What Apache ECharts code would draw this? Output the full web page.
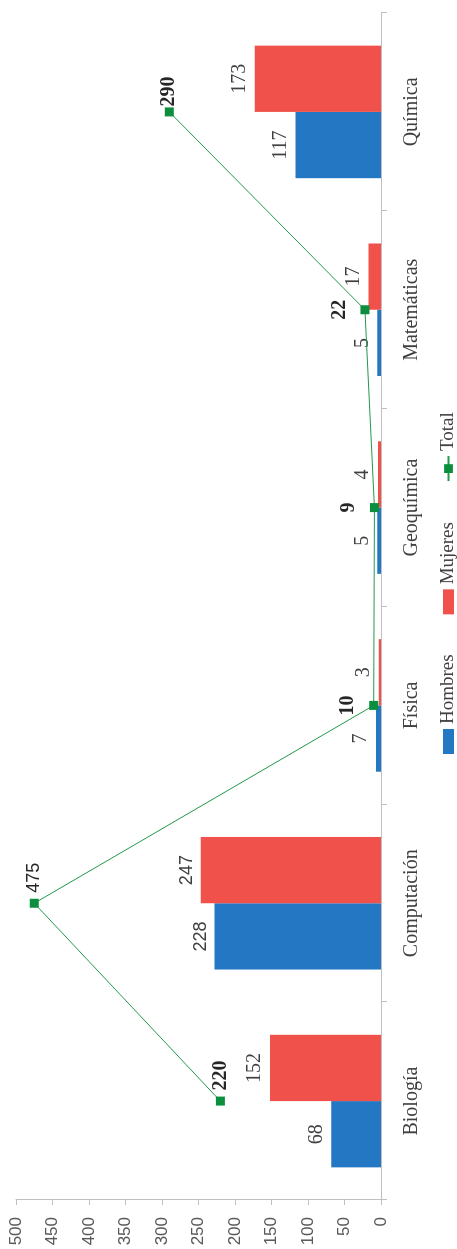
<!DOCTYPE html>
<html>
<head>
<meta charset="utf-8">
<script src="https://cdn.jsdelivr.net/npm/echarts@6/dist/echarts.min.js"></script>
<style>
  html, body { margin: 0; padding: 0; background: #fff; overflow: hidden; }
  /* the chart is laid out as columns, then turned a quarter turn anticlockwise */
  #chart {
    position: absolute; left: 0; top: 0;
    width: 1249px; height: 457px;
    transform-origin: 0 0;
    transform: translateY(1249px) rotate(-90deg);
  }
</style>
</head>
<body>
<div id="chart"></div>
<script>
// Áreas y número de personas por sexo
const categorias = ['Biología', 'Computación', 'Física', 'Geoquímica', 'Matemáticas', 'Química'];
const hombres = [68, 228, 7, 5, 5, 117];
const mujeres = [152, 247, 3, 4, 17, 173];
const total = [220, 475, 10, 9, 22, 290];
const valorTicks = [0, 50, 100, 150, 200, 250, 300, 350, 400, 450, 500];

const SERIF = '"Liberation Serif", "DejaVu Serif", serif';
const SANS = '"Liberation Sans", Arial, sans-serif';
const AZUL = '#2478C3';
const ROJO = '#F0514B';
const VERDE = '#1F9A4B';
const VERDE_MARCA = '#0B8F3E';

// Computación values are set in a sans face
const sansIdx = categorias.indexOf('Computación');
// total labels that sit beside the point instead of above it
const ladoDerecho = { 'Biología': 6, 'Computación': 6, 'Química': 1 };

function barData(vals) {
  return vals.map((v, i) => i === sansIdx
    ? { value: v, label: { fontFamily: SANS, fontSize: 18 } }
    : v);
}

const totalData = total.map((v, i) => {
  const item = { value: v };
  const lab = {};
  if (categorias[i] in ladoDerecho) {
    lab.position = 'right';
    lab.distance = ladoDerecho[categorias[i]];
  }
  if (i === sansIdx) {
    lab.fontFamily = SANS;
    lab.fontWeight = 'normal';
    lab.fontSize = 18;
  }
  item.label = lab;
  return item;
});

const chart = echarts.init(document.getElementById('chart'), null, { renderer: 'canvas' });

chart.setOption({
  animation: false,
  backgroundColor: '#ffffff',
  grid: { left: 49, right: 13, top: 16, bottom: 76, containLabel: false },
  legend: {
    left: 490,
    top: 434,
    itemWidth: 25,
    itemHeight: 11,
    itemGap: 40,
    textStyle: { fontFamily: SERIF, fontSize: 19, color: '#404040' },
    data: [
      { name: 'Hombres', icon: 'rect' },
      { name: 'Mujeres', icon: 'rect' },
      { name: 'Total' }
    ]
  },
  xAxis: {
    type: 'category',
    data: categorias,
    axisLine: { lineStyle: { color: '#BFBFBF', width: 1 } },
    axisTick: { show: true, length: 6, alignWithLabel: false, lineStyle: { color: '#BFBFBF' } },
    axisLabel: { margin: 21, fontFamily: SERIF, fontSize: 20, color: '#404040' },
    splitLine: { show: false }
  },
  yAxis: {
    type: 'value',
    min: valorTicks[0],
    max: valorTicks[valorTicks.length - 1],
    interval: valorTicks[1] - valorTicks[0],
    axisLine: { show: true, lineStyle: { color: '#BFBFBF', width: 1 } },
    axisTick: { show: true, length: 5, lineStyle: { color: '#BFBFBF' } },
    axisLabel: { margin: 17, fontFamily: SANS, fontSize: 17, color: '#595959' },
    splitLine: { show: false }
  },
  series: [
    {
      name: 'Hombres',
      type: 'bar',
      data: barData(hombres),
      barGap: '0%',
      barCategoryGap: '33%',
      itemStyle: { color: AZUL },
      label: {
        show: true, position: 'top', distance: 5,
        fontFamily: SERIF, fontSize: 20, color: '#404040'
      },
      z: 2
    },
    {
      name: 'Mujeres',
      type: 'bar',
      data: barData(mujeres),
      barGap: '0%',
      barCategoryGap: '33%',
      itemStyle: { color: ROJO },
      label: {
        show: true, position: 'top', distance: 5,
        fontFamily: SERIF, fontSize: 20, color: '#404040'
      },
      z: 2
    },
    {
      name: 'Total',
      type: 'line',
      data: totalData,
      symbol: 'rect',
      symbolSize: 9,
      itemStyle: { color: VERDE_MARCA },
      lineStyle: { color: VERDE, width: 1 },
      label: {
        show: true, position: 'top', distance: 11,
        fontFamily: SERIF, fontSize: 20, fontWeight: 'bold', color: '#262626'
      },
      z: 5
    }
  ]
});
</script>
</body>
</html>
